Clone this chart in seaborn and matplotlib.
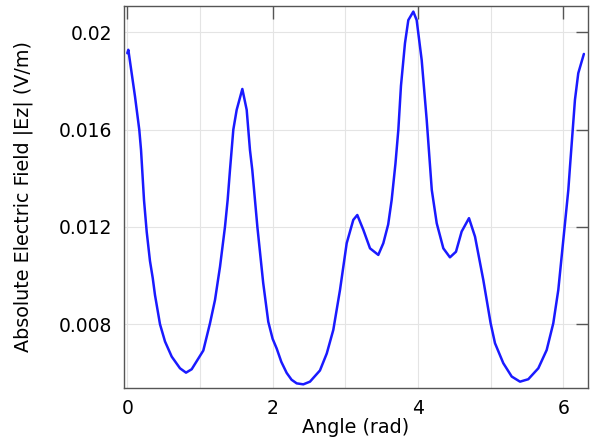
import numpy as np
import pandas as pd
import matplotlib
matplotlib.use('Agg')
import matplotlib.pyplot as plt
from matplotlib.ticker import MultipleLocator
import seaborn as sns

# values
angle = [0.000, 0.014, 0.106, 0.165, 0.189, 0.230, 0.267, 0.312, 0.350, 0.381,
         0.450, 0.519, 0.611, 0.725, 0.808, 0.886, 1.046, 1.138, 1.207, 1.276,
         1.344, 1.381, 1.413, 1.459, 1.505, 1.583, 1.643, 1.688, 1.720, 1.790,
         1.870, 1.940, 2.000, 2.056, 2.120, 2.193, 2.260, 2.331, 2.422, 2.514,
         2.651, 2.745, 2.835, 2.927, 3.019, 3.110, 3.165, 3.248, 3.340, 3.454,
         3.523, 3.590, 3.638, 3.690, 3.730, 3.766, 3.821, 3.867, 3.936, 3.982,
         4.051, 4.097, 4.120, 4.190, 4.258, 4.349, 4.440, 4.523, 4.601, 4.702,
         4.785, 4.899, 5.000, 5.060, 5.174, 5.290, 5.404, 5.518, 5.656, 5.771,
         5.862, 5.931, 5.977, 6.023, 6.069, 6.092, 6.160, 6.206, 6.283]
field = [0.01914, 0.01928, 0.01736, 0.01599, 0.01516, 0.01310, 0.01180, 0.01060, 0.00990, 0.00920,
         0.00800, 0.00729, 0.00667, 0.00619, 0.00601, 0.00615, 0.00692, 0.00804, 0.00900, 0.01037,
         0.01200, 0.01311, 0.01434, 0.01600, 0.01681, 0.01767, 0.01681, 0.01516, 0.01434, 0.01200,
         0.00970, 0.00810, 0.00740, 0.00700, 0.00645, 0.00600, 0.00572, 0.00557, 0.00553, 0.00564,
         0.00610, 0.00680, 0.00777, 0.00941, 0.01133, 0.01229, 0.01249, 0.01188, 0.01112, 0.01085,
         0.01133, 0.01210, 0.01311, 0.01460, 0.01600, 0.01780, 0.01955, 0.02050, 0.02085, 0.02050,
         0.01886, 0.01722, 0.01640, 0.01352, 0.01215, 0.01112, 0.01075, 0.01098, 0.01181, 0.01236,
         0.01160, 0.00982, 0.00804, 0.00722, 0.00640, 0.00585, 0.00564, 0.00574, 0.00619, 0.00694,
         0.00804, 0.00941, 0.01078, 0.01215, 0.01352, 0.01448, 0.01722, 0.01832, 0.01911]
xticks = [0, 2, 4, 6]
yticks = [0.008, 0.012, 0.016, 0.02]
yticklabels = ['0.008', '0.012', '0.016', '0.02']

df = pd.DataFrame({'angle': angle, 'field': field})

sns.set_style('white')
plt.rcParams['font.family'] = ['DejaVu Sans']
plt.rcParams['text.color'] = 'black'
plt.rcParams['axes.labelcolor'] = 'black'
plt.rcParams['xtick.labelcolor'] = 'black'
plt.rcParams['ytick.labelcolor'] = 'black'

fig = plt.figure(figsize=(5.93, 4.42), dpi=100)
ax = fig.add_axes([0.2083, 0.1222, 0.7833, 0.8642])

sns.lineplot(data=df, x='angle', y='field', color='#1a1aff', linewidth=1.8, ax=ax)

ax.set_xlim(-0.052, 6.34)
ax.set_ylim(0.00538, 0.02108)
ax.set_xticks(xticks)
ax.xaxis.set_minor_locator(MultipleLocator(1))
ax.set_yticks(yticks)
ax.set_yticklabels(yticklabels)

ax.grid(True, which='major', color='#e4e4e4', linewidth=0.8)
ax.grid(True, which='minor', axis='x', color='#e4e4e4', linewidth=0.8)
ax.set_axisbelow(True)

ax.tick_params(which='major', direction='in', length=9, width=1, color='#555555',
               top=True, right=True, labelsize=13.5, pad=8)
ax.tick_params(which='minor', length=0)
for s in ax.spines.values():
    s.set_color('#555555')
    s.set_linewidth(1)

ax.set_xlabel('Angle (rad)', fontsize=13.8, labelpad=0)
ax.set_ylabel('Absolute Electric Field |Ez| (V/m)', fontsize=13.8, labelpad=19)

fig.savefig('out.png', dpi=100)
